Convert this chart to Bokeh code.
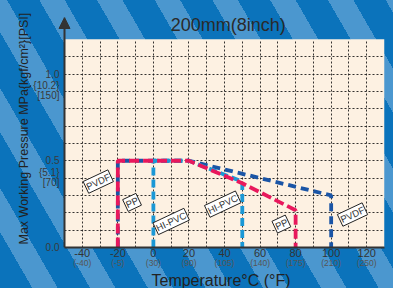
from bokeh.plotting import figure
from bokeh.models import (FixedTicker, SingleIntervalTicker, LinearAxis, Label, Grid,
                          Range1d, Title, BoxAnnotation, Arrow, NormalHead)
from bokeh.embed import file_html
from bokeh.resources import INLINE

# ---------------- data ----------------
title_text = "200mm(8inch)"
x_title = "Temperature°C (°F)"
y_title = "Max Working Pressure MPa{kgf/cm²}[PSI]"

temp_ticks = [-40, -20, 0, 20, 40, 60, 80, 100, 120]
temp_labels_c = ["-40", "-20", "0", "20", "40", "60", "80", "100", "120"]
temp_labels_f = ["(-40)", "(-5)", "(30)", "(90)", "(105)", "(140)", "(175)", "(210)", "(250)"]

press_ticks = [0.0, 0.5, 1.0]
press_labels = ["0.0", "0.5", "1.0"]
press_kgf = ["", "{5.1}", "{10.2}"]
press_psi = ["", "[70]", "[150]"]

pvdf_t = [-20, -20, 20, 100, 100]
pvdf_p = [0.0, 0.5, 0.5, 0.30, 0.0]

pp_t = [-20, -20, 20, 50, 80, 80]
pp_p = [0.0, 0.5, 0.5, 0.37, 0.215, 0.0]

hipvc_t = [0, 0, 20, 50, 50]
hipvc_p = [0.0, 0.5, 0.5, 0.38, 0.0]

tag_names = ["PVDF", "PP", "HI-PVC", "HI-PVC", "PP", "PVDF"]
tag_t = [-31, -12, 10, 39, 72, 112]
tag_p = [0.38, 0.26, 0.15, 0.25, 0.135, 0.19]

x_min, x_max = -50, 130
y_min, y_max = 0.0, 1.2

# ---------------- layout ----------------
W, H = 393, 288
PLOT_L, PLOT_T = 64, 39            # where the cream chart area starts
PLOT_W, PLOT_H = 320, 210
ARROW_PX, PAD_L = 22, 7            # room for the axis arrow above / left
px = PLOT_W / (x_max - x_min)
py = PLOT_H / (y_max - y_min)
x_lo = x_min - PAD_L / px
y_hi = y_max + ARROW_PX / py
ML, MT = PLOT_L - PAD_L, PLOT_T - ARROW_PX
MR, MB = W - PLOT_L - PLOT_W, H - PLOT_T - PLOT_H

FONT = "Liberation Sans"
p = figure(width=W, height=H, x_range=Range1d(x_lo, x_max), y_range=Range1d(y_min, y_hi),
           output_backend="svg", toolbar_location=None,
           min_border_left=ML, min_border_right=MR, min_border_top=MT, min_border_bottom=MB,
           x_axis_type=None, y_axis_type=None)
p.styles = {"background": "repeating-linear-gradient(60deg, #0b73bb 0px, #0b73bb 28px, #4b97cf 28px, #4b97cf 50px)"}
p.border_fill_color = None
p.background_fill_color = None
p.outline_line_color = None

# cream chart area
p.add_layout(BoxAnnotation(left=x_min, right=x_max, bottom=y_min, top=y_max,
                           fill_color="#fdf1e2", fill_alpha=1, line_color=None, level="image"))

# grid
has_cross = "cross_bounds" in Grid.properties()
for dim, step, bnd, cb in ((0, 10, (x_min, x_max), (y_min, y_max)),
                           (1, 0.1, (y_min, y_max), (x_min, x_max))):
    g = Grid(dimension=dim, ticker=SingleIntervalTicker(interval=step), bounds=bnd,
             grid_line_color="#111111", grid_line_dash="2 2", grid_line_alpha=0.85,
             grid_line_width=1)
    if has_cross:
        g.cross_bounds = cb
    p.add_layout(g, "center")


def style_axis(ax, size, color, standoff):
    ax.major_label_text_font = FONT
    ax.major_label_text_font_size = size
    ax.major_label_text_color = color
    ax.major_tick_line_color = None
    ax.minor_tick_line_color = None
    ax.major_tick_out = 0
    ax.major_tick_in = 0
    ax.minor_tick_out = 0
    ax.minor_tick_in = 0
    ax.major_label_standoff = standoff


# x axes (Celsius, then Fahrenheit)
xa = LinearAxis(ticker=FixedTicker(ticks=temp_ticks), bounds=(x_min, x_max),
                major_label_overrides={t: s for t, s in zip(temp_ticks, temp_labels_c)})
style_axis(xa, "11px", "#333333", 1)
xa.axis_line_color = "#333333"
xa.axis_line_width = 2
p.add_layout(xa, "below")

xf = LinearAxis(ticker=FixedTicker(ticks=temp_ticks),
                major_label_overrides={t: s for t, s in zip(temp_ticks, temp_labels_f)})
style_axis(xf, "8.5px", "#555555", -2)
xf.axis_line_color = None
p.add_layout(xf, "below")

p.add_layout(Title(text=x_title, align="center", text_font=FONT, text_font_size="16px",
                   text_font_style="normal", text_color="#222222", standoff=-1), "below")

# y axis: MPa with kgf/cm2 and PSI equivalents underneath
d1, d2 = 11.4 / py, 21.8 / py
y_ticks, y_over = [], {}
for t, s, k, q in zip(press_ticks, press_labels, press_kgf, press_psi):
    y_ticks.append(t)
    y_over[t] = s
    if k:
        y_ticks += [t - d1, t - d2]
        y_over[t - d1] = k
        y_over[t - d2] = q
ya = LinearAxis(ticker=FixedTicker(ticks=y_ticks), major_label_overrides=y_over)
style_axis(ya, "10px", "#3a3a3a", 5 - PAD_L)
ya.axis_line_color = None
p.add_layout(ya, "left")

p.add_layout(Title(text=y_title, align="left", offset=3, text_font=FONT,
                   text_font_size="12.5px", text_font_style="normal", text_color="#222222",
                   standoff=0), "left")

# y axis line with its arrow head
p.add_layout(Arrow(end=NormalHead(size=11, fill_color="#333333", line_color="#333333"),
                   x_start=x_min, y_start=y_min, x_end=x_min, y_end=y_hi,
                   line_width=2, line_color="#333333"))

# chart title (sits in the band above the chart area)
p.add_layout(Label(x=x_min + (PLOT_W / 2 + 3.7) / px, y=y_max + 14.4 / py, text=title_text,
                   text_align="center", text_baseline="middle", text_font=FONT,
                   text_font_size="18px", text_color="#2a2a2a"))

# series lines
p.line(pvdf_t, pvdf_p, line_color="#1a55a6", line_width=3.8, line_dash="8 5")
p.line(hipvc_t, hipvc_p, line_color="#1a98d6", line_width=3.8, line_dash="8 4")
p.line(pp_t, pp_p, line_color="#e8185c", line_width=3.8, line_dash="10 4")

# series tags
for n, t, v in zip(tag_names, tag_t, tag_p):
    p.add_layout(Label(x=t, y=v, text=n, angle=0.44, text_align="center", text_baseline="middle",
                       text_font=FONT, text_font_size="9.5px", text_color="#333333",
                       background_fill_color="white", border_line_color="#222222",
                       border_line_width=1, padding=1))

open("out.html", "w").write(file_html(p, INLINE))
